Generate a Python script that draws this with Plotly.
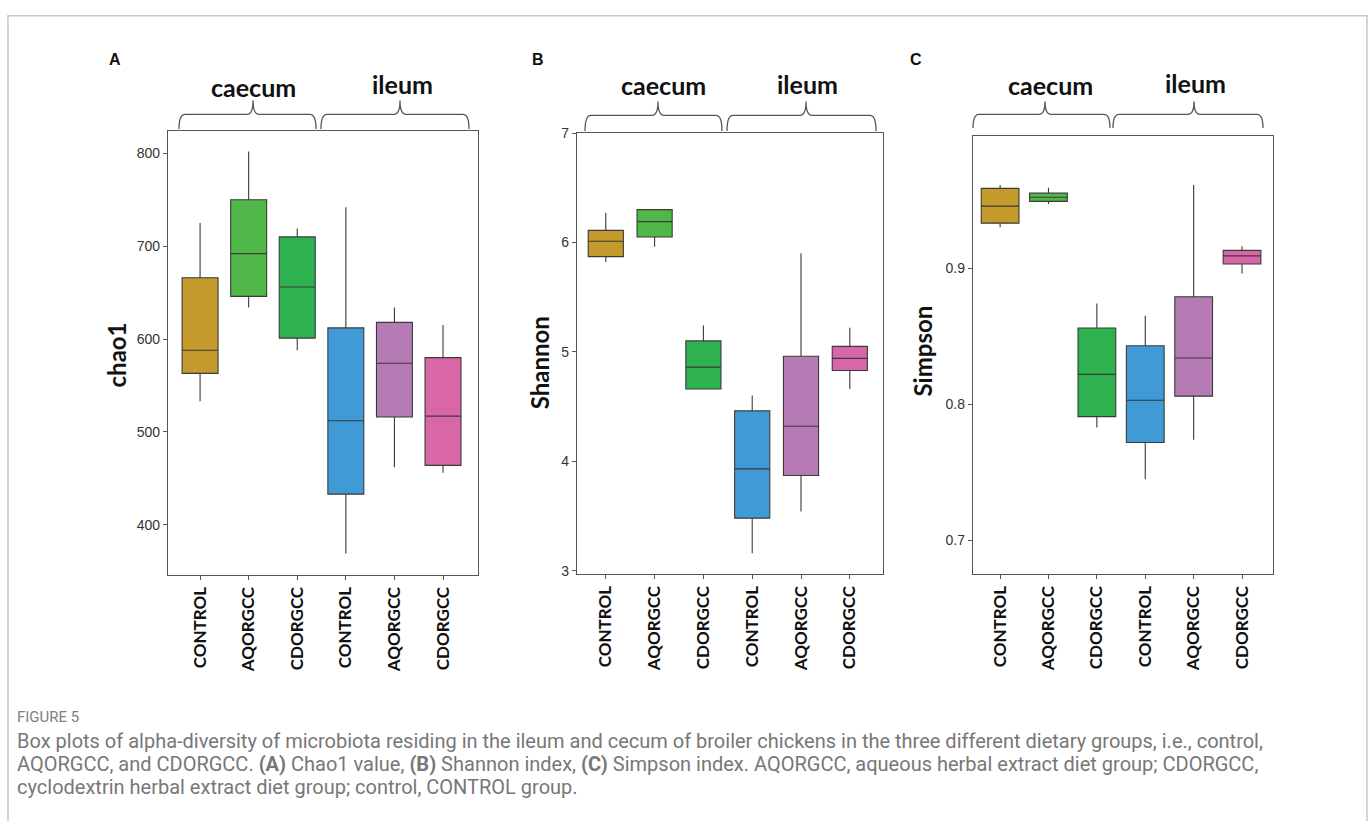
import plotly.graph_objects as go

W, H = 1372, 826

groups = ["CONTROL", "AQORGCC", "CDORGCC", "CONTROL", "AQORGCC", "CDORGCC"]
sites = ["caecum", "ileum"]
colors = ["#C49A2C", "#50B848", "#2DB24F", "#409AD5", "#B67AB4", "#D967A8"]

chao1_lo = [533, 634, 588, 369, 462, 456]
chao1_q1 = [563, 646, 601, 433, 516, 464]
chao1_med = [588, 692, 656, 512, 574, 517]
chao1_q3 = [666, 750, 710, 612, 618, 580]
chao1_hi = [725, 802, 719, 742, 634, 615]

shannon_lo = [5.82, 5.96, 4.66, 3.16, 3.54, 4.66]
shannon_q1 = [5.87, 6.05, 4.66, 3.48, 3.87, 4.83]
shannon_med = [6.01, 6.19, 4.86, 3.93, 4.32, 4.94]
shannon_q3 = [6.11, 6.30, 5.10, 4.46, 4.96, 5.05]
shannon_hi = [6.27, 6.30, 5.24, 4.60, 5.90, 5.22]

simpson_lo = [0.930, 0.947, 0.783, 0.745, 0.774, 0.896]
simpson_q1 = [0.933, 0.949, 0.791, 0.772, 0.806, 0.903]
simpson_med = [0.9455, 0.952, 0.822, 0.803, 0.834, 0.909]
simpson_q3 = [0.9585, 0.955, 0.856, 0.843, 0.879, 0.913]
simpson_hi = [0.961, 0.959, 0.874, 0.865, 0.961, 0.916]

chao1_ticks = [400, 500, 600, 700, 800]
shannon_ticks = [3, 4, 5, 6, 7]
simpson_ticks = [0.7, 0.8, 0.9]

panel_letters = ["A", "B", "C"]
y_titles = ["chao1", "Shannon", "Simpson"]

caption_head = "FIGURE 5"
caption_lines = [
    "Box plots of alpha-diversity of microbiota residing in the ileum and cecum of broiler chickens in the three different dietary groups, i.e., control,",
    "AQORGCC, and CDORGCC. <b>(A)</b> Chao1 value, <b>(B)</b> Shannon index, <b>(C)</b> Simpson index. AQORGCC, aqueous herbal extract diet group; CDORGCC,",
    "cyclodextrin herbal extract diet group; control, CONTROL group.",
]

# ---- layout geometry (pixels) ----
panels = [
    dict(xd=(168, 478), yd=(125, 576), xr=[-0.66, 5.72], yr=[346, 824], bw=0.74,
         ticks=chao1_ticks, ttext=[str(t) for t in chao1_ticks],
         data=(chao1_lo, chao1_q1, chao1_med, chao1_q3, chao1_hi),
         letter=(115, 52), ytitle=(116, 352),
         braces=[(179, 253, 316), (321, 400, 469)], btop=108, btip=123, bpeak=94,
         labels=[(253, 80), (402, 77)]),
    dict(xd=(577, 883), yd=(127, 575), xr=[-0.59, 5.68], yr=[2.97, 7.0], bw=0.72,
         ticks=shannon_ticks, ttext=[str(t) for t in shannon_ticks],
         data=(shannon_lo, shannon_q1, shannon_med, shannon_q3, shannon_hi),
         letter=(538, 52), ytitle=(539, 361),
         braces=[(585, 658, 722), (727, 806, 876)], btop=109, btip=125, bpeak=95,
         labels=[(663, 78), (807, 77)]),
    dict(xd=(973, 1273), yd=(130, 575), xr=[-0.56, 5.64], yr=[0.6755, 0.997], bw=0.78,
         ticks=simpson_ticks, ttext=[f"{t:.1f}" for t in simpson_ticks],
         data=(simpson_lo, simpson_q1, simpson_med, simpson_q3, simpson_hi),
         letter=(916, 52), ytitle=(923, 348),
         braces=[(973, 1045, 1110), (1113, 1194, 1263)], btop=108, btip=122, bpeak=95,
         labels=[(1050, 78), (1195, 76)]),
]

def px(x):
    return x / W

def py(y):
    return 1 - y / H

fig = go.Figure()
layout = dict(width=W, height=H, margin=dict(l=0, r=0, t=0, b=0),
              paper_bgcolor="white", plot_bgcolor="white", showlegend=False)
annotations = []
shapes = []

idx = list(range(len(groups)))
for p, pan in enumerate(panels):
    xa = "x" if p == 0 else f"x{p+1}"
    ya = "y" if p == 0 else f"y{p+1}"
    lo, q1, med, q3, hi = pan["data"]
    for i in idx:
        fig.add_trace(go.Box(
            x=[i], q1=[q1[i]], median=[med[i]], q3=[q3[i]],
            lowerfence=[lo[i]], upperfence=[hi[i]],
            fillcolor=colors[i], line=dict(color="#3a3a3a", width=1.1),
            whiskerwidth=0, width=pan["bw"], boxpoints=False,
            xaxis=xa, yaxis=ya, hoverinfo="skip"))
    axkey = "xaxis" if p == 0 else f"xaxis{p+1}"
    aykey = "yaxis" if p == 0 else f"yaxis{p+1}"
    layout[axkey] = dict(
        domain=[px(pan["xd"][0]), px(pan["xd"][1])], anchor=ya,
        range=pan["xr"], tickmode="array", tickvals=idx, ticktext=groups,
        tickangle=-90, ticks="outside", ticklen=4, tickcolor="#555",
        showline=True, linecolor="#555", linewidth=1.3, mirror=True,
        showgrid=False, zeroline=False,
        tickfont=dict(family="Lato, Open Sans, sans-serif", size=17, color="#111",
                      weight="bold"))
    layout[aykey] = dict(
        domain=[py(pan["yd"][1]), py(pan["yd"][0])], anchor=xa,
        range=pan["yr"], tickmode="array", tickvals=pan["ticks"], ticktext=pan["ttext"],
        ticks="outside", ticklen=4, tickcolor="#555",
        showline=True, linecolor="#555", linewidth=1.3, mirror=True,
        showgrid=False, zeroline=False,
        tickfont=dict(family="Liberation Sans, Arial", size=14, color="#333"))

    annotations.append(dict(text=f"<b>{panel_letters[p]}</b>", x=px(pan["letter"][0]), y=py(pan["letter"][1]),
                            xref="paper", yref="paper", showarrow=False, xanchor="center", yanchor="middle",
                            font=dict(family="Liberation Sans, Arial", size=16, color="#111")))
    annotations.append(dict(text=f"<b>{y_titles[p]}</b>", x=px(pan["ytitle"][0]), y=py(pan["ytitle"][1]),
                            xref="paper", yref="paper", showarrow=False, textangle=-90,
                            xanchor="center", yanchor="middle",
                            font=dict(family="Lato, Open Sans, sans-serif", size=24, color="#111")))
    for s, (lx, ly) in enumerate(pan["labels"]):
        annotations.append(dict(text=f"<b>{sites[s]}</b>", x=px(lx), y=py(ly),
                                xref="paper", yref="paper", showarrow=False,
                                xanchor="center", yanchor="middle",
                                font=dict(family="Lato, Open Sans, sans-serif", size=25, color="#111")))
    for (x0, xm, x1) in pan["braces"]:
        t, tip, pk = pan["btop"], pan["btip"], pan["bpeak"]
        r = 6
        pts = (f"M {px(x0)},{py(tip)} Q {px(x0)},{py(t)} {px(x0 + r)},{py(t)} "
               f"L {px(xm - r)},{py(t)} Q {px(xm)},{py(t)} {px(xm)},{py(pk)} "
               f"Q {px(xm)},{py(t)} {px(xm + r)},{py(t)} "
               f"L {px(x1 - r)},{py(t)} Q {px(x1)},{py(t)} {px(x1)},{py(tip)}")
        shapes.append(dict(type="path", path=pts, xref="paper", yref="paper",
                           line=dict(color="#555", width=1.3)))

shapes.append(dict(type="path",
                   path=f"M {px(8)},{py(826)} L {px(8)},{py(8)} L {px(1367)},{py(8)} L {px(1367)},{py(826)}",
                   xref="paper", yref="paper", line=dict(color="#c8c8c8", width=1.5)))

annotations.append(dict(text=caption_head, x=px(15), y=py(720), xref="paper", yref="paper",
                        showarrow=False, xanchor="left", yanchor="middle",
                        font=dict(family="Roboto, sans-serif", size=15, color="#808080")))
for k, line in enumerate(caption_lines):
    annotations.append(dict(text=line, x=px(15), y=py(745 + 23 * k), xref="paper", yref="paper",
                            showarrow=False, xanchor="left", yanchor="middle", align="left",
                            font=dict(family="Roboto, sans-serif", size=20, color="#777777")))

layout["annotations"] = annotations
layout["shapes"] = shapes
fig.update_layout(**layout)
fig.write_html("out.html")
